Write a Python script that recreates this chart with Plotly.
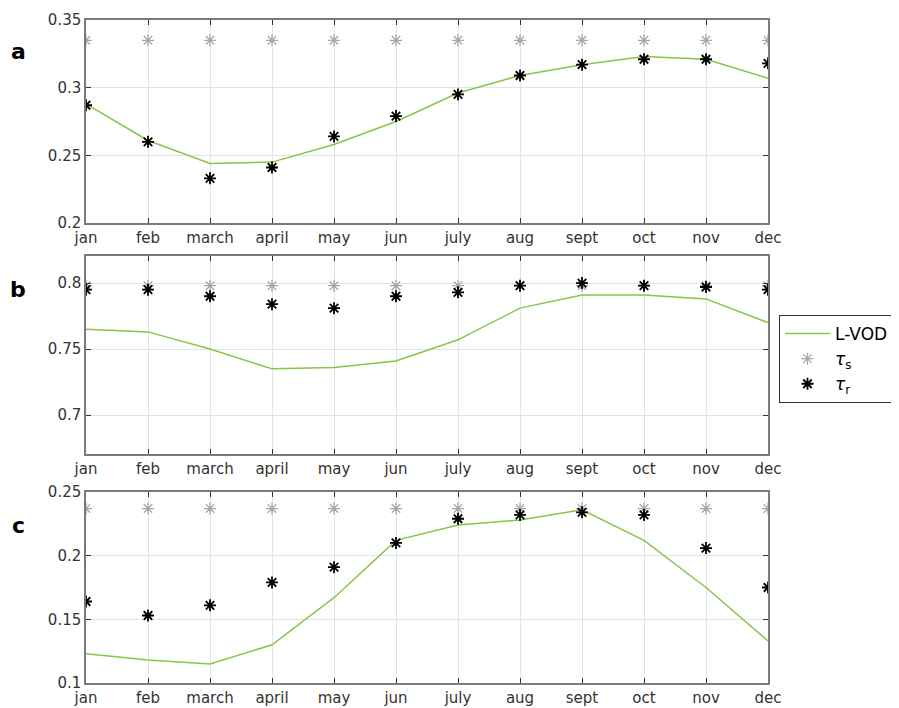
import plotly.graph_objects as go

months = ["jan", "feb", "march", "april", "may", "jun", "july", "aug", "sept", "oct", "nov", "dec"]

# panel a
a_lvod = [0.288, 0.261, 0.244, 0.245, 0.258, 0.275, 0.296, 0.309, 0.317, 0.323, 0.321, 0.307]
a_tau_s = [0.335] * 12
a_tau_r = [0.287, 0.260, 0.233, 0.241, 0.264, 0.279, 0.295, 0.309, 0.317, 0.321, 0.321, 0.318]

# panel b
b_lvod = [0.765, 0.763, 0.750, 0.735, 0.736, 0.741, 0.757, 0.781, 0.791, 0.791, 0.788, 0.770]
b_tau_s = [0.798] * 12
b_tau_r = [0.795, 0.795, 0.790, 0.784, 0.781, 0.790, 0.793, 0.798, 0.800, 0.798, 0.797, 0.795]

# panel c
c_lvod = [0.123, 0.118, 0.115, 0.130, 0.167, 0.212, 0.224, 0.228, 0.236, 0.212, 0.175, 0.133]
c_tau_s = [0.237] * 12
c_tau_r = [0.164, 0.153, 0.161, 0.179, 0.191, 0.210, 0.229, 0.232, 0.234, 0.232, 0.206, 0.175]

W, H, OFF = 891, 700, 8


def py(p):
    return 1 - (p - OFF) / H


def px(p):
    return (p - OFF) / W


panels = [
    ("a", a_lvod, a_tau_s, a_tau_r, [0.2, 0.35], [0.2, 0.25, 0.3, 0.35], [py(223), py(20)]),
    ("b", b_lvod, b_tau_s, b_tau_r, [0.6705, 0.8205], [0.7, 0.75, 0.8], [py(454), py(256)]),
    ("c", c_lvod, c_tau_s, c_tau_r, [0.1, 0.25], [0.1, 0.15, 0.2, 0.25], [py(683), py(492)]),
]

GREEN = "#86c54a"
GRAY = "#a8a8a8"
FONT = "DejaVu Sans"

fig = go.Figure()
layout = {}
for i, (lab, lvod, ts, tr, yr, yt, dom) in enumerate(panels):
    n = "" if i == 0 else str(i + 1)
    xa, ya = "x" + n, "y" + n
    show = i == 0
    fig.add_trace(go.Scatter(x=months, y=lvod, mode="lines", line=dict(color=GREEN, width=1.5),
                             name="L-VOD", xaxis=xa, yaxis=ya, showlegend=show, legendgroup="l"))
    fig.add_trace(go.Scatter(x=months, y=ts, mode="markers",
                             marker=dict(symbol="asterisk", size=10, color=GRAY, line=dict(color=GRAY, width=1.3)),
                             name="<i>τ</i><sub>s</sub>", xaxis=xa, yaxis=ya, showlegend=show, legendgroup="s"))
    fig.add_trace(go.Scatter(x=months, y=tr, mode="markers",
                             marker=dict(symbol="asterisk", size=10, color="black", line=dict(color="black", width=1.8)),
                             name="<i>τ</i><sub>r</sub>", xaxis=xa, yaxis=ya, showlegend=show, legendgroup="r"))
    axcommon = dict(showline=True, linecolor="#7a7a7a", linewidth=1.5, mirror="ticks",
                    ticks="inside", ticklen=5, tickcolor="#333333", tickwidth=1.2,
                    showgrid=True, gridcolor="#e3e3e3", gridwidth=1, zeroline=False,
                    automargin=False,
                    tickfont=dict(family=FONT, size=15, color="#333333"))
    layout["xaxis" + n] = dict(domain=[px(86), px(768)], anchor=ya, type="category",
                               categoryorder="array", categoryarray=months, range=[0, 11],
                               ticklabelstandoff=0, **axcommon)
    layout["yaxis" + n] = dict(domain=dom, anchor=xa, range=yr, tickvals=yt, **axcommon)

fig.update_layout(**layout)

for lab, ypix in [("a", 52), ("b", 290), ("c", 525)]:
    fig.add_annotation(text="<b>%s</b>" % lab, xref="paper", yref="paper", x=px(18), y=py(ypix),
                       showarrow=False, xanchor="center", yanchor="middle",
                       font=dict(family=FONT, size=22, color="black"))

fig.update_layout(
    width=W, height=H,
    margin=dict(l=0, r=0, t=0, b=0, autoexpand=False),
    paper_bgcolor="white", plot_bgcolor="white",
    legend=dict(x=px(779), y=py(315), xanchor="left", yanchor="top",
                bordercolor="#333333", borderwidth=1, bgcolor="white", itemwidth=45,
                font=dict(family=FONT, size=17, color="black"), tracegroupgap=0),
    showlegend=True,
)

fig.write_html("out.html")
